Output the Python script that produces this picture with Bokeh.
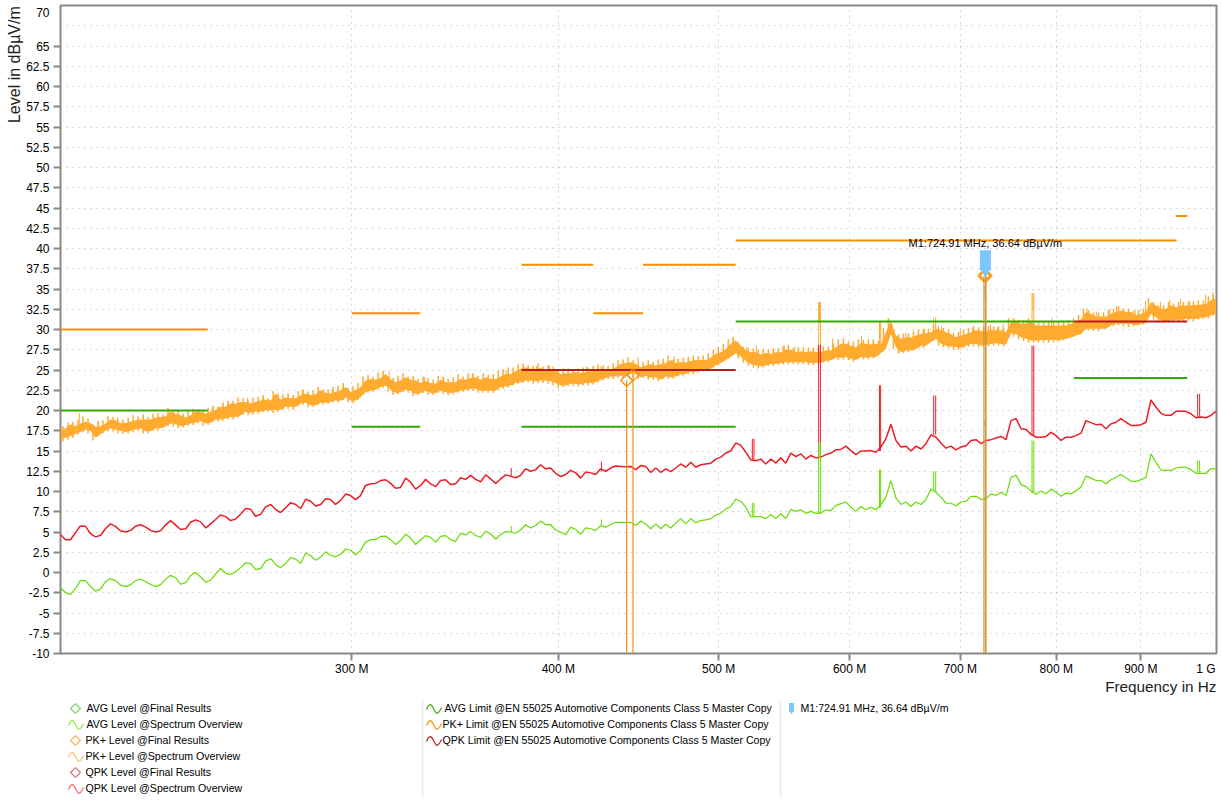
# EMI scan chart, level against frequency on a log axis
from math import sqrt

from bokeh.core.properties import value
from bokeh.embed import file_html
from bokeh.layouts import column
from bokeh.models import FixedTicker, LinearAxis, Range1d
from bokeh.plotting import figure
from bokeh.resources import INLINE

########################################################################################################################
# Data (MHz and dBuV/m)

freq_mhz = [
    200.0, 201.4, 202.8, 204.2, 205.6, 207.1, 208.5, 210.0, 211.5, 212.9, 214.4, 215.9,
    217.4, 219.0, 220.5, 222.0, 223.6, 225.2, 226.7, 228.3, 229.9, 231.5, 233.1, 234.8,
    236.4, 238.1, 239.7, 241.4, 243.1, 244.8, 246.5, 248.2, 249.9, 251.7, 253.4, 255.2,
    257.0, 258.8, 260.6, 262.4, 264.3, 266.1, 268.0, 269.8, 271.7, 273.6, 275.5, 277.5,
    279.4, 281.4, 283.3, 285.3, 287.3, 289.3, 291.3, 293.3, 295.4, 297.5, 299.5, 301.6,
    303.7, 305.8, 308.0, 310.1, 312.3, 314.5, 316.7, 318.9, 321.1, 323.4, 325.6, 327.9,
    330.2, 332.5, 334.8, 337.2, 339.5, 341.9, 344.3, 346.7, 349.1, 351.6, 354.0, 356.5,
    359.0, 361.5, 364.0, 366.6, 369.1, 371.7, 374.3, 376.9, 379.5, 382.2, 384.9, 387.6,
    390.2, 393.0, 395.7, 398.5, 401.3, 404.1, 406.9, 409.8, 412.6, 415.5, 418.4, 421.3,
    424.3, 427.2, 430.2, 433.2, 436.2, 439.3, 442.4, 445.5, 448.6, 451.7, 454.9, 458.1,
    461.3, 464.5, 467.7, 471.0, 474.3, 477.6, 481.0, 484.3, 487.7, 491.1, 494.6, 498.0,
    501.5, 505.0, 508.5, 512.1, 515.7, 519.3, 522.9, 526.6, 530.2, 533.9, 537.7, 541.4,
    545.2, 549.0, 552.9, 556.7, 560.6, 564.5, 568.5, 572.5, 576.5, 580.5, 584.6, 588.6,
    592.8, 596.9, 601.1, 605.3, 609.5, 613.8, 618.1, 622.4, 626.8, 631.1, 635.5, 640.0,
    644.5, 649.0, 653.5, 658.1, 662.7, 667.3, 672.0, 676.7, 681.4, 686.2, 691.0, 695.8,
    700.7, 705.6, 710.5, 715.5, 720.5, 725.5, 730.6, 735.7, 740.9, 746.0, 751.2, 756.5,
    761.8, 767.1, 772.5, 777.9, 783.3, 788.8, 794.3, 799.8, 805.4, 811.0, 816.7, 822.4,
    828.1, 833.9, 839.7, 845.6, 851.5, 857.4, 863.4, 869.4, 875.5, 881.6, 887.8, 894.0,
    900.2, 906.5, 912.8, 919.2, 925.6, 932.0, 938.6, 945.1, 951.7, 958.3, 965.0, 971.8,
    978.5, 985.4, 992.2, 999.2,
]

qpk_level = [
    4.7, 4.05, 4.05, 4.9, 5.75, 5.7, 4.8, 4.4, 4.6, 5.4, 6.0, 5.7,
    5.15, 5.0, 5.2, 5.7, 5.9, 5.6, 5.2, 5.0, 5.15, 5.85, 6.4, 5.85,
    5.3, 5.4, 6.2, 6.5, 6.25, 5.5, 6.0, 6.55, 7.1, 6.9, 6.4, 6.6,
    7.2, 7.9, 7.8, 6.95, 7.2, 8.1, 8.4, 7.8, 7.4, 8.0, 8.6, 8.4,
    7.9, 9.05, 8.8, 8.2, 8.4, 9.1, 9.0, 8.4, 8.9, 9.7, 9.5, 9.0,
    9.5, 10.75, 10.95, 11.0, 11.35, 11.45, 11.0, 10.4, 10.5, 11.65, 11.15, 10.3,
    10.75, 11.5, 10.95, 10.6, 11.35, 11.45, 10.85, 10.95, 11.7, 11.5, 12.0, 11.5,
    11.2, 12.05, 11.55, 11.0, 11.55, 12.05, 11.9, 11.7, 12.0, 12.8, 12.5, 12.7,
    13.3, 12.8, 12.9, 12.25, 11.85, 12.1, 12.6, 12.3, 11.65, 12.4, 12.3, 12.1,
    12.8, 12.5, 12.9, 13.15, 13.1, 13.05, 13.1, 12.7, 13.2, 13.1, 12.35, 12.9,
    12.35, 12.8, 12.45, 12.9, 13.4, 13.0, 13.6, 13.0, 13.3, 13.4, 13.5, 14.0,
    14.25, 14.75, 15.0, 16.0, 15.7, 14.85, 13.9, 13.8, 14.0, 13.4, 14.0, 13.5,
    14.15, 13.5, 14.75, 14.3, 14.65, 14.0, 14.45, 14.15, 14.25, 14.55, 14.75, 15.15,
    15.2, 15.6, 15.05, 14.55, 15.0, 15.0, 15.05, 14.85, 15.5, 16.5, 18.3, 16.3,
    15.5, 15.6, 15.0, 15.6, 15.25, 15.9, 17.0, 16.7, 16.0, 15.35, 15.6, 15.15,
    15.5, 15.65, 16.3, 16.4, 15.9, 16.3, 16.4, 16.6, 16.8, 16.4, 18.75, 19.0,
    17.75, 17.65, 17.05, 16.7, 16.7, 16.8, 17.3, 16.9, 16.3, 16.7, 16.7, 16.9,
    17.2, 18.75, 18.5, 18.25, 18.3, 17.75, 18.35, 18.55, 19.0, 18.55, 18.15, 18.15,
    18.25, 18.55, 21.3, 20.4, 19.65, 19.4, 19.4, 19.9, 19.9, 19.9, 19.6, 19.1,
    19.2, 19.1, 19.4, 19.9,
]

avg_level = [
    -1.85, -2.5, -2.7, -2.0, -1.0, -1.0, -1.7, -2.3, -2.0, -1.15, -0.75, -1.0,
    -1.55, -1.75, -1.5, -1.0, -0.8, -1.15, -1.45, -1.75, -1.5, -0.85, -0.35, -0.65,
    -1.45, -1.25, -0.4, 0.0, -0.55, -1.2, -0.95, -0.2, 0.5, -0.1, -0.25, 0.1,
    0.6, 1.2, 1.1, 0.35, 0.5, 1.4, 1.7, 1.0, 0.6, 1.1, 1.85, 1.65,
    1.1, 2.4, 2.1, 1.5, 1.9, 2.55, 2.1, 1.95, 2.25, 2.9, 2.75, 2.2,
    2.7, 3.75, 4.05, 4.05, 4.45, 4.5, 4.05, 3.45, 3.95, 4.75, 4.25, 3.45,
    4.05, 4.55, 4.35, 3.75, 4.45, 4.55, 4.05, 3.85, 4.85, 4.65, 5.05, 4.55,
    4.35, 5.1, 4.75, 4.1, 4.7, 5.05, 5.0, 4.85, 5.25, 5.9, 5.5, 5.8,
    6.35, 5.9, 5.9, 5.25, 5.0, 4.65, 5.6, 5.3, 4.75, 5.5, 5.4, 5.2,
    5.8, 5.6, 5.9, 6.2, 6.2, 6.15, 6.2, 5.8, 6.35, 6.0, 5.4, 6.0,
    5.4, 5.95, 5.5, 6.1, 6.65, 6.0, 6.65, 6.15, 6.4, 6.5, 6.65, 7.1,
    7.3, 7.85, 8.15, 9.05, 8.8, 8.05, 6.85, 6.9, 6.9, 6.65, 7.15, 6.65,
    7.25, 6.65, 7.8, 7.55, 7.75, 7.3, 7.55, 7.3, 7.35, 7.75, 7.65, 8.25,
    8.5, 8.7, 8.05, 7.55, 8.15, 7.75, 8.05, 7.75, 8.4, 9.3, 11.35, 9.2,
    8.4, 8.7, 8.15, 8.7, 8.4, 9.0, 10.3, 9.9, 9.3, 8.55, 8.55, 8.25,
    8.7, 8.8, 9.4, 9.4, 9.0, 9.1, 9.7, 9.5, 9.9, 9.5, 11.75, 12.0,
    10.85, 10.6, 10.05, 9.65, 10.05, 9.7, 10.3, 9.9, 9.4, 9.8, 9.7, 10.1,
    10.55, 11.9, 11.65, 11.35, 11.35, 10.95, 11.45, 11.75, 12.1, 11.7, 11.25, 11.25,
    11.45, 11.75, 14.65, 13.6, 12.65, 12.6, 12.6, 12.9, 13.0, 13.0, 12.7, 12.25,
    12.25, 12.25, 12.8, 12.8,
]

# the peak trace is a noisy band, so keep its upper and lower edge
pk_high = [
    17.65, 17.8, 18.3, 18.05, 18.4, 18.6, 18.45, 18.0, 18.05, 18.4, 18.9, 18.8,
    18.45, 18.45, 18.6, 18.8, 18.9, 18.9, 18.9, 19.15, 19.2, 19.3, 19.85, 19.6,
    19.4, 19.15, 19.4, 19.85, 19.85, 19.6, 19.85, 20.05, 20.45, 20.45, 20.85, 20.85,
    21.05, 21.05, 20.85, 21.05, 21.25, 21.35, 21.25, 22.1, 21.35, 21.6, 21.5, 21.5,
    21.9, 22.1, 21.9, 22.0, 22.5, 22.2, 22.1, 22.3, 22.5, 22.9, 22.3, 22.5,
    22.9, 23.7, 23.9, 23.8, 24.0, 24.5, 23.9, 23.5, 23.7, 24.1, 23.8, 23.7,
    23.4, 23.6, 23.4, 23.3, 23.8, 23.5, 23.5, 23.5, 23.9, 23.8, 24.0, 24.1,
    23.8, 24.1, 23.9, 23.9, 24.2, 24.5, 24.5, 24.85, 25.15, 25.35, 25.15, 25.15,
    25.25, 24.95, 25.15, 24.95, 24.5, 24.6, 24.6, 24.75, 24.6, 24.75, 24.85, 24.95,
    25.15, 25.15, 25.0, 25.35, 25.75, 25.85, 25.95, 25.75, 25.35, 25.55, 25.7, 25.55,
    25.75, 25.85, 26.25, 25.85, 25.95, 25.95, 26.1, 26.25, 26.25, 26.25, 26.5, 27.0,
    27.2, 27.6, 28.25, 28.65, 28.0, 27.4, 27.2, 27.2, 26.9, 27.1, 27.0, 27.2,
    27.2, 27.5, 27.5, 27.2, 27.3, 27.2, 27.3, 27.2, 27.2, 27.4, 27.4, 27.8,
    28.25, 28.25, 28.0, 27.8, 28.3, 28.25, 28.15, 28.25, 28.15, 29.65, 31.1, 29.25,
    28.85, 29.0, 29.0, 29.25, 29.45, 29.55, 29.65, 30.1, 29.9, 29.65, 29.45, 29.05,
    29.25, 29.45, 29.65, 29.9, 29.8, 29.8, 29.9, 29.9, 29.9, 29.65, 30.9, 30.9,
    30.7, 30.7, 30.9, 30.5, 30.5, 30.5, 30.5, 30.5, 30.5, 30.5, 30.7, 30.9,
    31.3, 32.15, 31.95, 31.6, 31.6, 31.6, 31.95, 32.15, 32.35, 32.15, 32.15, 31.75,
    31.95, 32.15, 33.35, 32.95, 32.55, 32.55, 32.95, 32.75, 32.95, 32.95, 32.95, 33.05,
    33.05, 33.15, 33.6, 33.8,
]

pk_low = [
    16.55, 16.65, 16.85, 17.1, 17.35, 17.65, 17.5, 16.65, 17.1, 17.5, 17.8, 17.65,
    17.5, 17.35, 17.5, 17.65, 17.8, 17.45, 17.45, 17.8, 17.8, 18.05, 18.4, 18.3,
    18.05, 18.2, 18.4, 18.5, 18.7, 18.4, 18.45, 18.9, 18.9, 19.0, 19.2, 19.2,
    19.4, 19.85, 19.7, 19.85, 19.85, 20.05, 20.05, 20.05, 20.1, 20.45, 20.45, 20.45,
    20.85, 20.95, 20.65, 20.65, 20.95, 20.95, 21.05, 21.25, 21.2, 21.6, 21.25, 21.2,
    21.65, 22.25, 22.45, 22.55, 22.9, 23.1, 22.55, 22.15, 22.25, 22.55, 22.45, 22.05,
    22.15, 22.45, 22.15, 22.15, 22.45, 22.25, 22.15, 22.25, 22.45, 22.55, 22.7, 22.7,
    22.45, 22.45, 22.45, 22.45, 22.9, 22.95, 23.1, 23.4, 23.5, 23.7, 23.7, 23.6,
    23.7, 23.7, 23.6, 23.4, 23.1, 23.1, 23.3, 23.3, 23.2, 23.4, 23.4, 23.5,
    23.8, 24.0, 24.2, 24.2, 24.3, 24.3, 24.5, 24.5, 24.1, 24.3, 24.05, 24.1,
    23.8, 24.2, 24.1, 24.2, 24.45, 24.5, 24.75, 24.75, 24.95, 25.0, 25.15, 25.55,
    25.85, 26.25, 26.6, 27.1, 26.65, 26.1, 25.7, 25.55, 25.45, 25.55, 25.75, 25.75,
    25.85, 25.95, 25.95, 25.95, 25.95, 25.95, 25.85, 25.85, 25.95, 26.1, 26.25, 26.5,
    26.5, 26.6, 26.4, 26.25, 26.6, 26.5, 26.6, 26.6, 27.1, 27.6, 29.45, 27.8,
    27.2, 27.4, 27.4, 27.6, 28.0, 28.0, 28.45, 28.85, 28.2, 28.0, 27.9, 27.8,
    27.75, 28.0, 28.2, 28.2, 28.0, 28.15, 28.2, 28.3, 28.2, 28.15, 29.55, 29.4,
    29.05, 28.85, 28.65, 28.65, 28.7, 28.7, 28.7, 28.7, 28.7, 28.85, 29.0, 29.25,
    29.4, 30.1, 30.1, 30.1, 30.1, 30.1, 30.5, 30.7, 30.7, 30.7, 30.7, 30.5,
    30.7, 30.8, 31.95, 31.5, 31.1, 31.0, 31.1, 31.2, 31.2, 31.3, 31.3, 31.3,
    31.45, 31.5, 31.7, 32.0,
]

# spiky fringe of the band, one estimate between each pair of readings above
pk_fringe_top = [
    18.1, 18.5, 18.6, 18.9, 19.3, 19.0, 18.3, 18.7, 18.8, 19.3, 19.2, 18.9,
    18.9, 19.1, 19.4, 19.3, 19.5, 19.2, 19.6, 19.7, 19.5, 20.3, 19.9, 20.0,
    19.6, 19.9, 20.2, 20.1, 20.0, 20.3, 20.6, 20.5, 21.0, 21.2, 21.2, 21.6,
    21.5, 21.2, 21.6, 21.7, 21.9, 21.5, 22.4, 21.9, 22.0, 22.1, 21.9, 22.4,
    22.6, 22.3, 22.5, 22.9, 22.6, 22.6, 22.9, 23.1, 23.4, 22.8, 23.0, 23.4,
    24.2, 24.4, 24.2, 24.7, 24.9, 24.3, 24.0, 24.3, 24.6, 24.2, 24.3, 23.9,
    24.2, 24.0, 23.8, 24.3, 24.1, 23.9, 24.1, 24.5, 24.2, 24.6, 24.6, 24.3,
    24.6, 24.4, 24.5, 24.9, 25.1, 25.3, 25.3, 25.7, 25.8, 25.6, 25.5, 25.8,
    25.4, 25.6, 25.4, 25.0, 25.1, 25.2, 25.0, 25.2, 25.3, 25.3, 25.5, 25.7,
    25.6, 25.5, 25.8, 26.2, 26.3, 26.6, 26.2, 25.9, 26.0, 26.2, 26.0, 26.3,
    26.4, 26.8, 26.3, 26.4, 26.5, 26.6, 26.8, 26.7, 26.8, 27.1, 27.5, 27.8,
    28.2, 28.8, 29.1, 28.5, 27.9, 27.7, 27.7, 27.5, 27.6, 27.5, 27.7, 27.7,
    28.0, 28.1, 27.7, 27.8, 27.8, 27.8, 27.8, 27.7, 27.9, 27.9, 28.3, 28.8,
    28.9, 28.5, 28.3, 28.8, 28.7, 28.7, 28.7, 28.6, 30.2, 31.4, 29.9, 29.4,
    29.5, 29.5, 29.8, 30.0, 30.1, 30.1, 30.6, 30.4, 30.2, 30.0, 29.6, 29.7,
    30.0, 30.2, 30.4, 30.3, 30.3, 30.4, 30.4, 30.4, 30.2, 31.4, 31.4, 31.2,
    31.2, 31.4, 31.1, 31.0, 31.0, 31.0, 31.0, 31.0, 31.0, 31.2, 31.4, 31.8,
    32.6, 32.4, 32.1, 32.1, 32.1, 32.4, 32.6, 32.9, 32.6, 32.6, 32.3, 32.4,
    32.6, 33.9, 33.4, 33.0, 33.0, 33.4, 33.2, 33.4, 33.4, 33.4, 33.5, 33.6,
    33.6, 34.1, 34.3,
]

pk_fringe_bottom = [
    16.2, 16.4, 16.6, 17.0, 17.3, 17.2, 16.3, 16.8, 17.2, 17.4, 17.4, 17.2,
    17.1, 17.2, 17.3, 17.5, 17.2, 17.2, 17.5, 17.5, 17.8, 18.1, 18.0, 17.8,
    17.9, 18.1, 18.2, 18.4, 18.1, 18.2, 18.6, 18.6, 18.7, 18.9, 18.9, 19.1,
    19.5, 19.4, 19.5, 19.6, 19.8, 19.8, 19.7, 19.8, 20.1, 20.2, 20.1, 20.5,
    20.7, 20.4, 20.4, 20.7, 20.7, 20.8, 21.0, 21.0, 21.3, 21.0, 20.9, 21.3,
    21.9, 22.2, 22.3, 22.6, 22.8, 22.3, 21.9, 22.0, 22.3, 22.2, 21.8, 21.9,
    22.2, 21.9, 21.9, 22.2, 22.0, 21.9, 22.0, 22.2, 22.3, 22.4, 22.4, 22.2,
    22.2, 22.2, 22.2, 22.6, 22.7, 22.8, 23.1, 23.3, 23.4, 23.5, 23.3, 23.4,
    23.4, 23.3, 23.1, 22.8, 22.9, 23.0, 23.0, 23.0, 23.1, 23.1, 23.2, 23.5,
    23.7, 23.9, 23.9, 24.0, 24.0, 24.2, 24.2, 23.9, 24.0, 23.8, 23.8, 23.6,
    23.9, 23.9, 23.9, 24.2, 24.2, 24.5, 24.5, 24.7, 24.8, 25.0, 25.3, 25.6,
    26.0, 26.4, 26.8, 26.4, 25.9, 25.5, 25.3, 25.2, 25.3, 25.5, 25.5, 25.6,
    25.7, 25.7, 25.7, 25.7, 25.7, 25.6, 25.6, 25.7, 25.9, 26.0, 26.3, 26.2,
    26.3, 26.2, 26.0, 26.4, 26.3, 26.3, 26.4, 26.8, 27.3, 28.6, 27.6, 27.0,
    27.1, 27.2, 27.4, 27.7, 27.7, 28.2, 28.6, 28.0, 27.8, 27.7, 27.5, 27.5,
    27.7, 27.9, 27.9, 27.8, 27.9, 27.9, 28.0, 28.0, 27.9, 29.2, 29.1, 28.8,
    28.6, 28.4, 28.4, 28.4, 28.4, 28.4, 28.4, 28.5, 28.7, 29.0, 29.1, 29.9,
    29.8, 29.9, 29.8, 29.8, 30.2, 30.4, 30.4, 30.5, 30.4, 30.3, 30.4, 30.5,
    30.6, 31.6, 31.2, 30.8, 30.8, 30.9, 30.9, 31.0, 31.0, 31.1, 31.0, 31.2,
    31.3, 31.4, 31.7,
]

# narrow spikes sticking out of the peak band
pk_spike_freq = [
    205.3, 210.7, 216.5, 232.3, 240.5, 247.0, 252.5, 259.5, 265.0, 270.7, 280.0, 292.0, 296.5,
    316.0, 332.0, 341.0, 355.0, 372.0, 381.0, 388.0, 395.0, 403.0, 416.0, 424.5, 447.0,
    470.0, 510.0, 520.0, 527.0, 548.0, 556.0, 586.0, 603.0, 610.0, 616.0, 620.0,
    649.0, 666.0, 682.0, 700.0, 712.0, 730.0, 737.0, 743.0,
    755.0, 768.0, 795.0, 808.0, 835.0, 846.0, 862.0, 870.0, 893.0, 906.0, 925.0, 937.0, 951.0, 963.0, 985.0, 995.0,
    574.7, 575.4, 576.1, 625.5, 626.5, 674.5, 676.4, 773.5, 774.5, 775.4, 724.4,
]
pk_spike_top = [
    19.7, 18.7, 19.2, 20.0, 20.2, 20.4, 21.0, 21.6, 21.7, 22.2, 22.5, 22.6, 23.3,
    24.9, 24.1, 24.2, 24.5, 24.9, 25.5, 25.5, 25.6, 25.2, 25.4, 25.5, 26.6,
    26.7, 29.0, 27.9, 28.0, 28.0, 27.9, 28.9, 28.6, 29.2, 28.8, 28.8,
    29.7, 30.0, 30.4, 30.0, 30.2, 30.6, 30.3, 30.7,
    31.2, 31.2, 31.4, 31.1, 32.6, 32.2, 32.6, 32.9, 32.4, 33.5, 33.4, 33.7, 33.8, 33.6, 34.3, 34.6,
    33.4, 33.4, 33.4, 30.9, 30.9, 31.5, 31.5, 34.5, 34.5, 34.5, 35.4,
]
pk_spike_base = [
    18.0, 17.5, 18.0, 18.8, 19.0, 19.0, 19.5, 20.2, 20.2, 20.4, 21.0, 21.2, 21.6,
    23.2, 22.5, 22.5, 23.0, 23.3, 23.7, 24.0, 24.2, 24.0, 24.0, 24.5, 25.0,
    25.0, 27.5, 26.5, 26.0, 26.2, 26.2, 27.0, 27.0, 27.0, 27.2, 27.2,
    28.0, 28.5, 28.7, 28.5, 28.4, 28.6, 28.4, 28.7,
    29.5, 29.5, 29.3, 29.2, 30.5, 30.5, 31.0, 30.8, 30.8, 32.0, 31.5, 31.5, 31.5, 31.8, 32.3, 32.5,
    27.0, 31.0, 27.0, 28.0, 28.0, 29.5, 29.5, 29.0, 32.5, 29.0, 33.9,
]

# spurs in the quasi peak and average traces
qpk_spike_freq = [374.6, 424.7, 524.0, 525.2, 574.7, 576.1, 625.5, 626.5, 674.5, 676.4, 773.5, 775.4, 974.1, 976.8]
qpk_spike_top = [12.9, 13.7, 16.5, 16.5, 28.1, 28.1, 23.1, 23.1, 21.85, 21.85, 28.0, 28.0, 22.05, 22.05]
qpk_spike_base = [11.9, 12.5, 13.9, 13.9, 14.2, 14.2, 15.0, 15.0, 17.0, 17.0, 16.9, 16.9, 19.1, 19.1]

avg_spike_freq = [374.6, 424.7, 524.0, 525.2, 574.7, 576.1, 625.5, 626.5, 674.5, 676.4, 724.4, 773.5, 775.4, 974.1, 976.8]
avg_spike_top = [5.75, 6.55, 8.6, 8.6, 16.0, 16.0, 12.7, 12.7, 12.5, 12.5, 18.8, 16.3, 16.3, 13.8, 13.8]
avg_spike_base = [5.0, 5.8, 6.9, 6.9, 7.3, 7.3, 8.0, 8.0, 10.0, 10.0, 18.1, 9.8, 9.8, 12.3, 12.3]

# limit lines
avg_limit_start = [200, 300, 380, 512, 820]
avg_limit_stop = [245.5, 330, 512, 820, 960]
avg_limit_level = [20, 18, 18, 31, 24]

pk_limit_start = [200, 300, 380, 420, 450, 512, 945]
pk_limit_stop = [245.5, 330, 420, 450, 512, 946, 960]
pk_limit_level = [30, 32, 38, 32, 38, 41, 44]

qpk_limit_start = [380, 820]
qpk_limit_stop = [512, 960]
qpk_limit_level = [25, 31]

# final measurements
final_freq = [439.9, 443.8, 723.4, 725.5]
final_level = [23.7, 24.4, 36.64, 36.64]

marker_freq = 724.91
marker_level = 36.64
marker_text = "M1:724.91 MHz, 36.64 dBµV/m"

x_ticks = [300, 400, 500, 600, 700, 800, 900]
x_tick_labels = ["300 M", "400 M", "500 M", "600 M", "700 M", "800 M", "900 M"]
y_ticks = [-10, -7.5, -5, -2.5, 0, 2.5, 5, 7.5, 10, 12.5, 15, 17.5, 20, 22.5, 25, 27.5, 30,
           32.5, 35, 37.5, 40, 42.5, 45, 47.5, 50, 52.5, 55, 57.5, 60, 62.5, 65]
y_tick_labels = ["-10", "-7.5", "-5", "-2.5", "0", "2.5", "5", "7.5", "10", "12.5", "15", "17.5", "20", "22.5",
                 "25", "27.5", "30", "32.5", "35", "37.5", "40", "42.5", "45", "47.5", "50", "52.5", "55",
                 "57.5", "60", "62.5", "65"]
# labels of the axis ends, moved inwards in the original so they stay on the page
x_end_label = {985.4: "1 G"}
y_end_label = {69.1: "70"}

col1_labels = ["AVG Level @Final Results", "AVG Level @Spectrum Overview", "PK+ Level @Final Results",
               "PK+ Level @Spectrum Overview", "QPK Level @Final Results", "QPK Level @Spectrum Overview"]
col2_labels = ["AVG Limit @EN 55025 Automotive Components Class 5 Master Copy",
               "PK+ Limit @EN 55025 Automotive Components Class 5 Master Copy",
               "QPK Limit @EN 55025 Automotive Components Class 5 Master Copy"]

########################################################################################################################
# Colours and fonts

FONT = "Liberation Sans"
AVG_TRACE = "#66dd00"
PK_TRACE = "#ffab30"
QPK_TRACE = "#ee1c25"
AVG_LIMIT = "#33aa00"
PK_LIMIT = "#f59000"
QPK_LIMIT = "#b81c1c"
MARKER_BLUE = "#7cc6ff"
FRAME_GRAY = "#888888"

########################################################################################################################
# Main plot

p = figure(width=1218, height=676, frame_width=1156, frame_height=648,
           x_axis_type="log", x_range=Range1d(200, 1000), y_range=Range1d(-10, 70),
           min_border_left=60, min_border_right=2, min_border_top=5, min_border_bottom=23,
           output_backend="svg", toolbar_location=None)
p.background_fill_color = "white"
p.outline_line_color = FRAME_GRAY
p.outline_line_width = 2

# tick marks are the minor ticks so that the two end labels can do without a mark
p.xaxis.ticker = FixedTicker(ticks=x_ticks + list(x_end_label), minor_ticks=x_ticks)
p.xaxis.major_label_overrides = {**dict(zip(x_ticks, x_tick_labels)), **x_end_label}
p.yaxis.ticker = FixedTicker(ticks=y_ticks + list(y_end_label), minor_ticks=y_ticks)
p.yaxis.major_label_overrides = {**dict(zip(y_ticks, y_tick_labels)), **y_end_label}
for ax in (p.xaxis[0], p.yaxis[0]):
    ax.axis_line_color = None
    ax.major_tick_line_color = None
    ax.major_tick_in = 0
    ax.major_tick_out = 7
    ax.minor_tick_line_color = FRAME_GRAY
    ax.minor_tick_line_width = 2
    ax.minor_tick_in = 0
    ax.minor_tick_out = 7
    ax.major_label_text_font = FONT
    ax.major_label_text_font_size = "12px"
    ax.major_label_text_color = "black"
p.xaxis.major_label_standoff = 1
p.yaxis.major_label_standoff = 4

# y title sits at the top of the axis, done as a second axis with one rotated label
p.add_layout(LinearAxis(ticker=FixedTicker(ticks=[62.7]), major_label_overrides={62.7: "Level in dBµV/m"},
                        major_label_orientation="vertical", major_label_standoff=0, axis_line_color=None,
                        major_tick_line_color=None, minor_tick_line_color=None, major_tick_in=0, major_tick_out=0,
                        major_label_text_font=FONT, major_label_text_font_size="16px",
                        major_label_text_color="#222222"), "left")

p.xgrid.ticker = FixedTicker(ticks=x_ticks)
p.ygrid.ticker = FixedTicker(ticks=y_ticks + [67.5])
for g in (p.xgrid[0], p.ygrid[0]):
    g.grid_line_color = "#b4b4b4"
    g.grid_line_dash = [1, 5]
    g.grid_line_width = 1

# traces
fringe_freq = [sqrt(a * b) for a, b in zip(freq_mhz[:-1], freq_mhz[1:])]
p.varea(freq_mhz, pk_low, pk_high, fill_color=PK_TRACE)
p.segment(fringe_freq, pk_fringe_bottom, fringe_freq, pk_fringe_top, line_color=PK_TRACE, line_width=1.5)
p.segment(pk_spike_freq, pk_spike_base, pk_spike_freq, pk_spike_top, line_color=PK_TRACE, line_width=1)
p.line(freq_mhz, qpk_level, line_color=QPK_TRACE, line_width=1.5)
p.segment(qpk_spike_freq, qpk_spike_base, qpk_spike_freq, qpk_spike_top, line_color=QPK_TRACE, line_width=1)
p.line(freq_mhz, avg_level, line_color=AVG_TRACE, line_width=1.2)
p.segment(avg_spike_freq, avg_spike_base, avg_spike_freq, avg_spike_top, line_color=AVG_TRACE, line_width=1)

# limits
p.segment(avg_limit_start, avg_limit_level, avg_limit_stop, avg_limit_level, line_color=AVG_LIMIT, line_width=2)
p.segment(pk_limit_start, pk_limit_level, pk_limit_stop, pk_limit_level, line_color=PK_LIMIT, line_width=2)
p.segment(qpk_limit_start, qpk_limit_level, qpk_limit_stop, qpk_limit_level, line_color=QPK_LIMIT, line_width=2)

# final results: stem down to the axis plus a diamond on top
p.segment(final_freq, final_level, final_freq, [-10] * len(final_freq), line_color=PK_LIMIT, line_width=1.2)
p.segment([marker_freq], [marker_level], [marker_freq], [-10], line_color="#999999", line_width=1)
p.scatter(final_freq, final_level, marker="square", angle=0.785398, size=8.5,
          fill_color=None, line_color=PK_LIMIT, line_width=1.2)

# marker M1
p.rect([marker_freq], [marker_level + 1.9], width=11, height=20, width_units="screen", height_units="screen",
       fill_color=MARKER_BLUE, line_color=None)
p.scatter([marker_freq], [marker_level + 0.55], marker="inverted_triangle", size=11,
          fill_color=MARKER_BLUE, line_color=None)
p.text([marker_freq], [marker_level + 4.05], text=[marker_text], text_align="center", text_baseline="middle",
       text_font=value(FONT), text_font_size="11px", text_color="black")

########################################################################################################################
# Strip below the plot with the x title and the legend, its ranges are page pixels

leg = figure(width=1218, height=122, frame_width=1156, frame_height=122,
             x_range=Range1d(60, 1216), y_range=Range1d(800, 678),
             min_border_left=60, min_border_right=2, min_border_top=0, min_border_bottom=0,
             output_backend="svg", toolbar_location=None)
leg.axis.visible = False
leg.grid.visible = False
leg.outline_line_color = None

leg.text([1216], [686], text=["Frequency in Hz"], text_align="right", text_baseline="middle",
         text_font=value(FONT), text_font_size="15.3px", text_color="#222222")

wave_dx = [0, 2, 4, 6, 8, 10, 12, 14, 15]
wave_dy = [1, -3, -4, -2, 2, 5, 4, 1, -1]


def wave(x0, y0, color):
    leg.line([x0 + d for d in wave_dx], [y0 + d for d in wave_dy], line_color=color, line_width=1.2)


col1_rows = [707, 723, 739, 755, 771, 787]
col1_x = [86, 86, 85, 85, 85, 85]
leg.text(col1_x, col1_rows, text=col1_labels, text_baseline="middle", text_font=value(FONT), text_font_size="10.6px",
         text_color="black")
leg.scatter([75, 75, 75], [708, 740, 772], marker="square", angle=0.785398, size=7, fill_color=None,
            line_color=["#7bd35b", "#ffb060", "#d87080"], line_width=1.2)
wave(68, 724, "#8ee84a")
wave(68, 756, "#ffc070")
wave(68, 788, "#f86068")

col2_rows = [707, 723, 739]
col2_x = [444, 442, 442]
leg.text(col2_x, col2_rows, text=col2_labels, text_baseline="middle", text_font=value(FONT), text_font_size="10.6px",
         text_color="black")
wave(426, 708, AVG_LIMIT)
wave(426, 724, PK_LIMIT)
wave(426, 740, QPK_LIMIT)

leg.text([800], [707], text=[marker_text], text_baseline="middle", text_font=value(FONT), text_font_size="10.6px",
         text_color="black")
leg.rect([791], [707], width=5, height=9, fill_color=MARKER_BLUE, line_color=None)
leg.scatter([791], [711], marker="inverted_triangle", size=5, fill_color=MARKER_BLUE, line_color=None)

# thin column separators
leg.segment([422, 780], [700, 700], [422, 780], [798, 798], line_color="#eeeeee", line_width=2)

layout = column(p, leg, spacing=0)
open("out.html", "w").write(file_html(layout, INLINE))
